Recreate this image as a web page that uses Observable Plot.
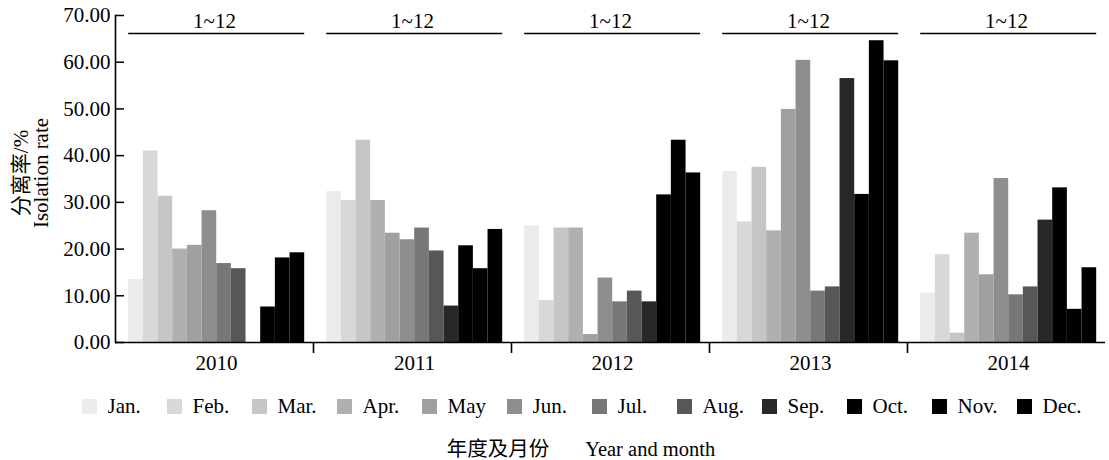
<!DOCTYPE html>
<html>
<head>
<meta charset="utf-8">
<script src="https://cdn.jsdelivr.net/npm/d3@7"></script>
<script src="https://cdn.jsdelivr.net/npm/@observablehq/plot@0.6"></script>
<style>
  body { margin: 0; background: #fff; }
  #chart { width: 1109px; font-family: "Liberation Serif", "Times New Roman", "Noto Sans CJK SC", serif; color: #000; background: #fff; }
  .xtitle { width: 1109px; box-sizing: border-box; padding-left: 53px; text-align: center; white-space: pre; font-size: 20.5px; line-height: 22px; margin-top: 18px; }
</style>
</head>
<body>
<div id="chart"></div>
<script>
const years = ["2010", "2011", "2012", "2013", "2014"];
const months = ["Jan.", "Feb.", "Mar.", "Apr.", "May", "Jun.", "Jul.", "Aug.", "Sep.", "Oct.", "Nov.", "Dec."];
const grays = ["#ebebeb", "#d8d8d8", "#c6c6c6", "#b0b0b0", "#a0a0a0", "#8e8e8e", "#777777", "#575757", "#282828", "#000000", "#000000", "#000000"];

const rate2010 = [13.5, 41.0, 31.3, 20.0, 20.8, 28.2, 16.9, 15.8, 0, 7.6, 18.1, 19.2];
const rate2011 = [32.3, 30.4, 43.3, 30.4, 23.4, 22.0, 24.5, 19.6, 7.8, 20.7, 15.8, 24.2];
const rate2012 = [25.0, 9.0, 24.5, 24.5, 1.7, 13.8, 8.7, 11.0, 8.7, 31.6, 43.3, 36.3];
const rate2013 = [36.6, 25.8, 37.5, 23.9, 49.9, 60.4, 11.0, 11.9, 56.5, 31.7, 64.6, 60.3];
const rate2014 = [10.6, 18.8, 2.0, 23.4, 14.5, 35.1, 10.2, 11.9, 26.2, 33.1, 7.1, 16.0];

const yTicks = [0, 10, 20, 30, 40, 50, 60, 70];
const periodLabel = "1~12";
const yLabel = "分离率/%\nIsolation rate";
const xTitle = "年度及月份       Year and month";

const series = [rate2010, rate2011, rate2012, rate2013, rate2014];
const data = years.flatMap((year, i) => months.map((month, j) => ({year, month, value: series[i][j]})));

const width = 1109, marginLeft = 115, marginRight = 4;
const halfBand = (width - marginLeft - marginRight) / years.length / 2;
const font = '"Liberation Serif", "Times New Roman", "Noto Sans CJK SC", serif';

const plot = Plot.plot({
  width,
  height: 385,
  marginTop: 15,
  marginBottom: 43,
  marginLeft,
  marginRight,
  style: {fontFamily: font, fontSize: "21px", background: "white", color: "black"},
  fx: {domain: years, padding: 0, label: null, round: false},
  x: {domain: months, paddingInner: 0, paddingOuter: 0.75, align: 0.6, axis: null, round: false},
  y: {domain: [0, 70], label: null},
  color: {domain: months, range: grays},
  marks: [
    Plot.barY(data, {fx: "year", x: "month", y: "value", fill: "month", inset: 0}),
    Plot.ruleY([0], {strokeWidth: 1.6}),
    Plot.frame({anchor: "left", facetAnchor: "left", strokeWidth: 1.6}),
    Plot.axisY({ticks: yTicks, tickFormat: d => d.toFixed(2), tickSize: -9, tickPadding: 14, strokeWidth: 1.5, label: null}),
    Plot.axisFx({anchor: "bottom", tickSize: 0, tickPadding: 13, label: null, dx: 2}),
    Plot.axisFx({anchor: "bottom", ticks: years.slice(0, -1), tickSize: 11, tickFormat: () => "", dx: halfBand, label: null, strokeWidth: 1.6}),
    Plot.ruleY(years, {fx: d => d, y: () => 70, x1: () => months[0], x2: () => months[months.length - 1], dy: 18, strokeWidth: 1.6}),
    Plot.text(years, {fx: d => d, text: () => periodLabel, frameAnchor: "top", lineAnchor: "middle", dy: 6}),
    Plot.text([years[0]], {fx: d => d, text: () => yLabel, frameAnchor: "left", textAnchor: "middle", lineAnchor: "middle", rotate: -90, dx: -84, dy: -6, lineHeight: 0.97})
  ]
});

const legend = Plot.legend({
  color: {type: "ordinal", domain: months, range: grays},
  columns: 12,
  swatchSize: 15,
  marginLeft: 82,
  width: 1015,
  style: {fontFamily: font, fontSize: "21px", columnGap: "5px", marginTop: "9px", marginBottom: "0px", color: "black"}
});

const title = document.createElement("div");
title.className = "xtitle";
title.textContent = xTitle;

const chart = document.getElementById("chart");
chart.append(plot, legend, title);
</script>
</body>
</html>
